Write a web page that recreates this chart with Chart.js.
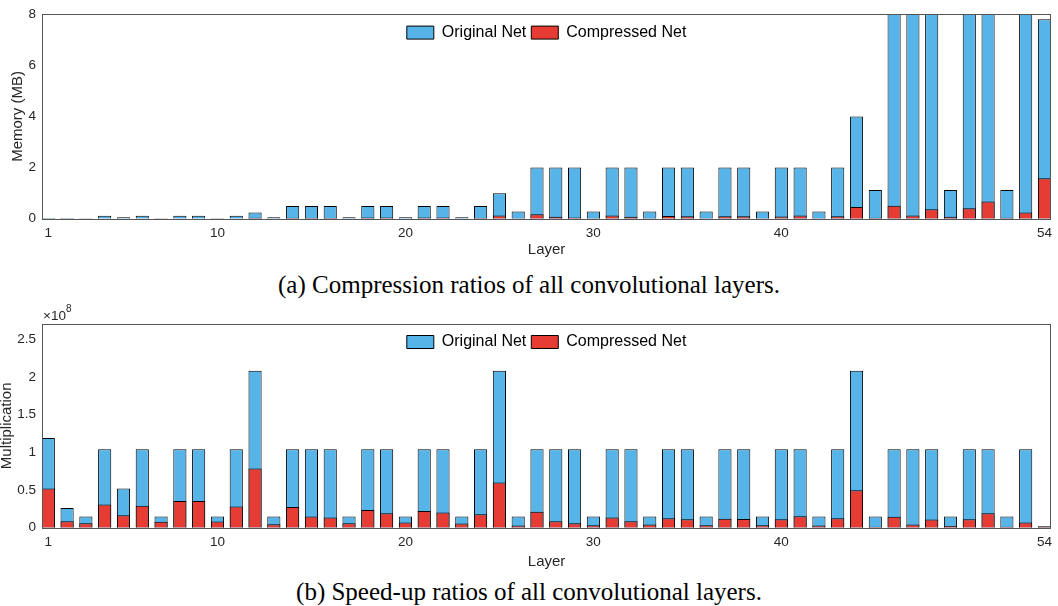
<!DOCTYPE html>
<html>
<head>
<meta charset="utf-8">
<title>Compression and speed-up per layer</title>
<script src="https://cdn.jsdelivr.net/npm/chart.js@4.4.1/dist/chart.umd.min.js"></script>
<style>
    body { margin: 0; background: #fff; }
    #page { position: relative; width: 1058px; height: 606px; }
    .box { position: absolute; left: 0; width: 1058px; }
    .caption {
        position: absolute; left: 0; width: 1058px; text-align: center;
        font-family: "Liberation Serif", "Times New Roman", serif;
        font-size: 25px; line-height: 28px; color: #000;
    }
</style>
</head>
<body>
<div id="page">
    <div class="box" style="top:0;height:262px"><canvas id="memChart" width="1058" height="262"></canvas></div>
    <div class="caption" style="top:271px">(a) Compression ratios of all convolutional layers.</div>
    <div class="box" style="top:298px;height:274px"><canvas id="multChart" width="1058" height="274"></canvas></div>
    <div class="caption" style="top:578px">(b) Speed-up ratios of all convolutional layers.</div>
</div>
<script>
// layer index 1..54
const layers = Array.from({ length: 54 }, (_, i) => i + 1);
const layerTicks = [1, 10, 20, 30, 40, 54];

// memory per layer (MB); bars above 8 run off the top of the axis
const memOriginal = [
    0.03, 0.03, 0.02, 0.12, 0.06, 0.12, 0.02, 0.12, 0.12, 0.02,
    0.12, 0.24, 0.06, 0.5, 0.5, 0.5, 0.06, 0.5, 0.5, 0.06,
    0.5, 0.5, 0.06, 0.5, 1.0, 0.28, 2.0, 2.0, 2.0, 0.28,
    2.0, 2.0, 0.28, 2.0, 2.0, 0.28, 2.0, 2.0, 0.28, 2.0,
    2.0, 0.28, 2.0, 4.0, 1.12, 9.0, 9.0, 9.0, 1.12, 9.0,
    9.0, 1.12, 9.0, 7.8
];
const memCompressed = [
    0.01, 0.01, 0.01, 0.01, 0.01, 0.01, 0.005, 0.01, 0.01, 0.005,
    0.01, 0.04, 0.01, 0.04, 0.03, 0.03, 0.01, 0.05, 0.05, 0.01,
    0.05, 0.05, 0.01, 0.03, 0.13, 0.02, 0.17, 0.08, 0.05, 0.02,
    0.13, 0.08, 0.02, 0.11, 0.1, 0.02, 0.1, 0.1, 0.02, 0.09,
    0.13, 0.02, 0.1, 0.46, 0.04, 0.51, 0.13, 0.37, 0.08, 0.41,
    0.67, 0.04, 0.24, 1.58
];
const memTicks = [0, 2, 4, 6, 8];

// multiplications per layer, in units of 1e8
const multOriginal = [
    1.19, 0.26, 0.15, 1.04, 0.52, 1.04, 0.15, 1.04, 1.04, 0.15,
    1.04, 2.08, 0.15, 1.04, 1.04, 1.04, 0.15, 1.04, 1.04, 0.15,
    1.04, 1.04, 0.15, 1.04, 2.08, 0.15, 1.04, 1.04, 1.04, 0.15,
    1.04, 1.04, 0.15, 1.04, 1.04, 0.15, 1.04, 1.04, 0.15, 1.04,
    1.04, 0.15, 1.04, 2.08, 0.15, 1.04, 1.04, 1.04, 0.15, 1.04,
    1.04, 0.15, 1.04, 0.02
];
const multCompressed = [
    0.52, 0.086, 0.06, 0.306, 0.164, 0.29, 0.078, 0.353, 0.353, 0.082,
    0.28, 0.784, 0.047, 0.276, 0.15, 0.134, 0.058, 0.233, 0.19, 0.069,
    0.22, 0.203, 0.056, 0.177, 0.599, 0.03, 0.211, 0.086, 0.06, 0.034,
    0.134, 0.086, 0.043, 0.125, 0.112, 0.034, 0.12, 0.116, 0.034, 0.112,
    0.151, 0.03, 0.125, 0.495, 0.013, 0.146, 0.043, 0.108, 0.022, 0.112,
    0.19, 0.013, 0.069, 0.013
];
const multTicks = [0, 0.5, 1, 1.5, 2, 2.5];

const seriesNames = ['Original Net', 'Compressed Net'];
const blue = '#56B4E9';
const red = '#E63C33';
const axisColor = '#555555';
const textColor = '#262626';
const sans = '"Liberation Sans", Arial, Helvetica, sans-serif';

// moves the legend inside the plot box, centred at the top
function legendInside(offset) {
    return {
        id: 'legendInside',
        afterLayout(chart) {
            const lg = chart.legend;
            const a = chart.chartArea;
            lg.left = a.left;
            lg.right = a.right;
            lg.width = a.right - a.left;
            lg.top = a.top + offset;
            lg.bottom = lg.top + lg.height;
        }
    };
}

// MATLAB style box round the plot
const frame = {
    id: 'frame',
    afterDatasetsDraw(chart) {
        const { ctx, chartArea: a } = chart;
        ctx.save();
        ctx.strokeStyle = axisColor;
        ctx.lineWidth = 1;
        ctx.strokeRect(Math.round(a.left) + 0.5, Math.round(a.top) + 0.5,
            Math.round(a.right - a.left) - 1, Math.round(a.bottom - a.top));
        ctx.restore();
    }
};

// "x10^8" exponent label above the y axis
const exponentLabel = {
    id: 'exponentLabel',
    afterDraw(chart) {
        const { ctx, chartArea: a } = chart;
        ctx.save();
        ctx.fillStyle = textColor;
        ctx.textBaseline = 'alphabetic';
        ctx.font = '13.5px ' + sans;
        ctx.fillText('\u00d710', a.left + 1, a.top - 4);
        const w = ctx.measureText('\u00d710').width;
        ctx.font = '10px ' + sans;
        ctx.fillText('8', a.left + 1 + w, a.top - 12);
        ctx.restore();
    }
};

function makeChart(canvasId, original, compressed, yMax, yTicks, yTitle, opts) {
    const ctx = document.getElementById(canvasId).getContext('2d');
    return new Chart(ctx, {
        type: 'bar',
        data: {
            labels: layers,
            datasets: [{
                label: seriesNames[0],
                data: original,
                backgroundColor: blue,
                borderColor: '#000',
                borderWidth: 1,
                order: 1
            }, {
                label: seriesNames[1],
                data: compressed,
                backgroundColor: red,
                borderColor: '#000',
                borderWidth: 1,
                order: 0
            }]
        },
        options: {
            responsive: false,
            animation: false,
            layout: {
                autoPadding: false,
                padding: { left: 0, right: 3, top: opts.padTop, bottom: 0 }
            },
            datasets: {
                bar: {
                    grouped: false,
                    categoryPercentage: 1,
                    barPercentage: 0.7,
                    clip: 0,
                    borderSkipped: 'start'
                }
            },
            scales: {
                x: {
                    type: 'linear',
                    offset: false,
                    min: 0.665,
                    max: 54.355,
                    grid: { display: false, drawTicks: false, offset: false },
                    border: { display: false },
                    afterBuildTicks: s => { s.ticks = layerTicks.map(v => ({ value: v })); },
                    afterFit: s => { s.height = opts.xHeight; },
                    ticks: {
                        autoSkip: false,
                        maxRotation: 0,
                        padding: 6,
                        color: textColor,
                        font: { family: sans, size: 13.5 },
                        callback: v => String(v)
                    },
                    title: {
                        display: true,
                        text: 'Layer',
                        color: textColor,
                        font: { family: sans, size: 15, lineHeight: 1 },
                        padding: { top: 0, bottom: opts.xTitlePad }
                    }
                },
                y: {
                    min: 0,
                    max: yMax,
                    grid: { display: false, drawTicks: false },
                    border: { display: false },
                    afterBuildTicks: s => { s.ticks = yTicks.map(v => ({ value: v })); },
                    afterFit: s => { s.width = 42; },
                    ticks: {
                        padding: 6,
                        color: textColor,
                        font: { family: sans, size: 13.5 },
                        callback: v => String(v)
                    },
                    title: {
                        display: true,
                        text: yTitle,
                        color: textColor,
                        font: { family: sans, size: 15, lineHeight: 1 },
                        padding: { top: opts.yTitlePad, bottom: 0 }
                    }
                }
            },
            plugins: {
                legend: {
                    position: 'top',
                    align: 'center',
                    labels: {
                        boxWidth: 27,
                        boxHeight: 13,
                        padding: 5,
                        color: '#000',
                        font: { family: sans, size: 16 },
                        sort: (a, b) => a.datasetIndex - b.datasetIndex
                    }
                },
                tooltip: { enabled: false }
            }
        },
        plugins: opts.plugins
    });
}

makeChart('memChart', memOriginal, memCompressed, 8, memTicks, 'Memory (MB)', {
    padTop: 9 - 26,
    xHeight: 262 - 218.7,
    xTitlePad: 4.5,
    yTitlePad: 10.5,
    plugins: [legendInside(5.5), frame]
});

makeChart('multChart', multOriginal, multCompressed, 2.7, multTicks, 'Multiplication', {
    padTop: 21 - 26,
    xHeight: 274 - 229.7,
    xTitlePad: 2.5,
    yTitlePad: -1,
    plugins: [legendInside(5), frame, exponentLabel]
});
</script>
</body>
</html>
